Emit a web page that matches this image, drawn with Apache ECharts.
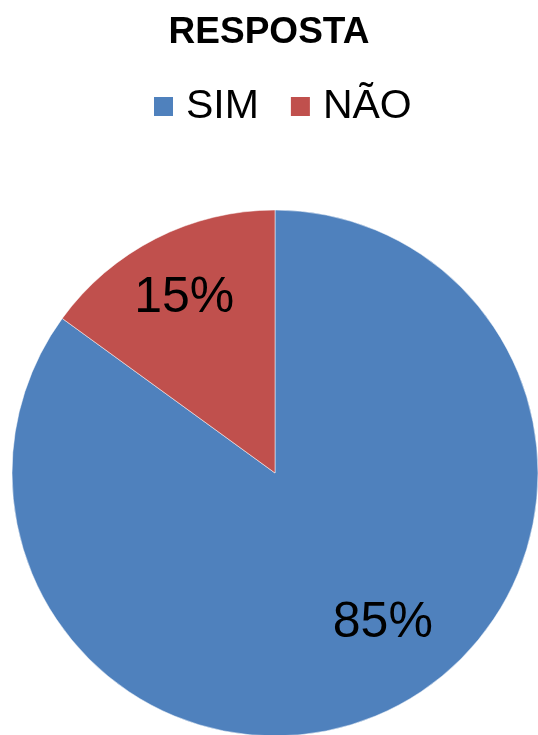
<!DOCTYPE html>
<html>
<head>
<meta charset="utf-8">
<script src="https://cdn.jsdelivr.net/npm/echarts@6/dist/echarts.min.js"></script>
<style>html,body{margin:0;padding:0;background:#fff}#c{width:538px;height:735px}</style>
</head>
<body>
<div id="c"></div>
<script>
var categories = ['SIM', 'NÃO'];
var values = [85, 15];
var colors = ['#4F81BD', '#C0504D'];
var titleText = 'RESPOSTA';

var chart = echarts.init(document.getElementById('c'), null, {renderer: 'canvas'});
var data = categories.map(function (c, i) {
  return {name: c, value: values[i], itemStyle: {color: colors[i]}};
});
var labelData = categories.map(function (c, i) {
  var lbl = i === 0 ? {padding: [0, 0, 0, 34]} : {};
  return {name: c, value: values[i], label: lbl};
});
chart.setOption({
  animation: false,
  title: {
    text: titleText, left: 'center', top: 9,
    textStyle: {fontFamily: 'Liberation Sans', fontWeight: 'bold', fontSize: 37, color: '#000'}
  },
  legend: {
    data: categories, left: 152, top: 86, padding: 0, itemWidth: 21, itemHeight: 21, itemGap: 30,
    icon: 'rect',
    textStyle: {fontFamily: 'Liberation Sans', fontSize: 41, color: '#000', padding: [0, 0, 0, 7]}
  },
  series: [{
    type: 'pie', center: [275, 473], radius: [0, 263], startAngle: 90, clockwise: true,
    label: {show: false}, labelLine: {show: false},
    itemStyle: {borderColor: '#fff', borderWidth: 0.5},
    emphasis: {disabled: true},
    data: data
  }, {
    type: 'pie', center: [275, 473], radius: [131, 263], startAngle: 90, clockwise: true,
    silent: true,
    itemStyle: {color: 'rgba(0,0,0,0)'},
    label: {show: true, position: 'inside', color: '#000',
      formatter: function (p) {
        return p.dataIndex === 0 ? '{a|' + p.value + '%}\n{s|}' : '{t|}\n{a|' + p.value + '%}';
      },
      rich: {
        a: {fontFamily: 'Liberation Sans', fontSize: 50, lineHeight: 56, color: '#000'},
        s: {fontSize: 1, lineHeight: 56},
        t: {fontSize: 1, lineHeight: 6}
      }},
    labelLine: {show: false},
    emphasis: {disabled: true},
    data: labelData
  }]
});
</script>
</body>
</html>
